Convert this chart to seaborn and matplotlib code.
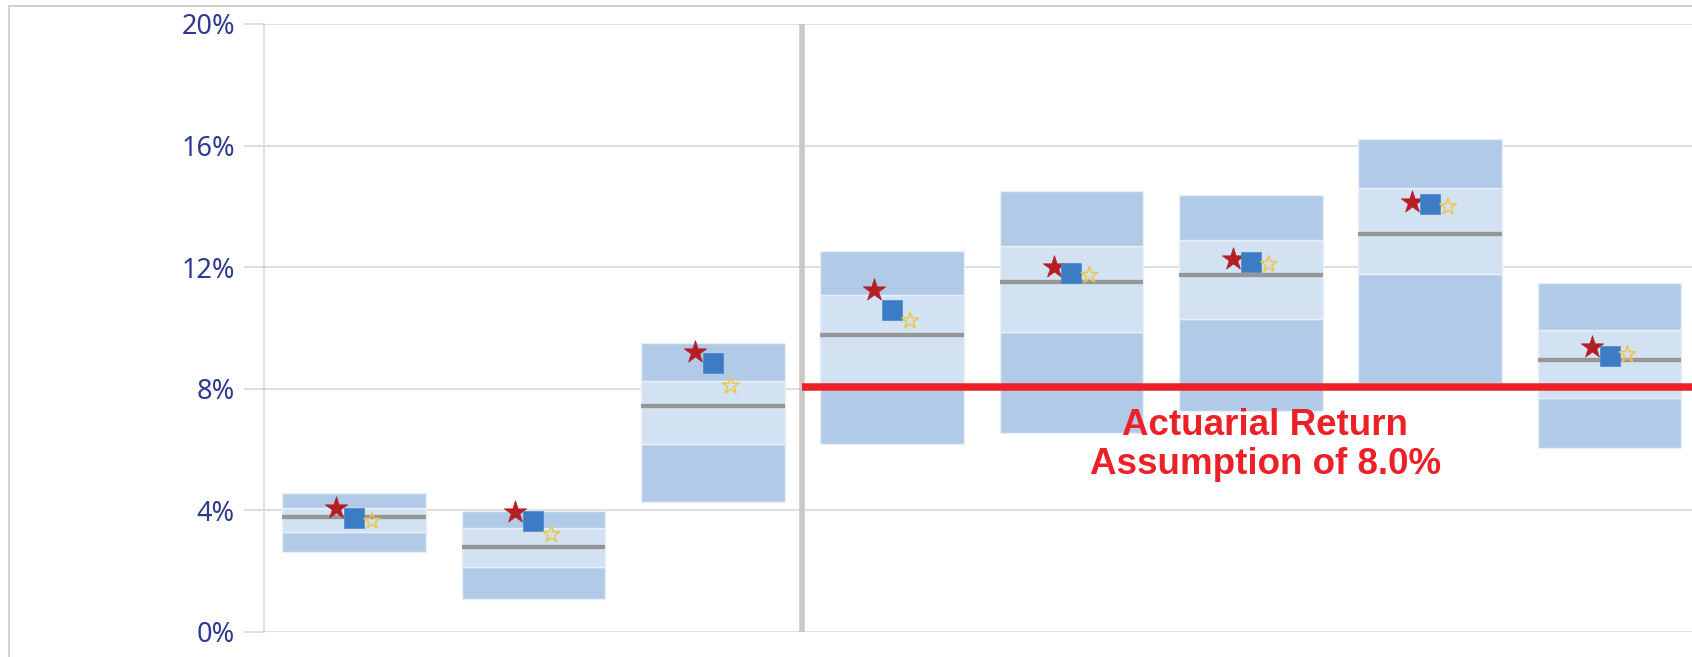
import numpy as np
import pandas as pd
import seaborn as sns
import matplotlib.pyplot as plt
from matplotlib.patches import Rectangle

# return ranges (%), one entry per box (left to right)
high = [4.58, 3.98, 9.50, 12.54, 14.50, 14.36, 16.21, 11.48]
q75 = [4.07, 3.41, 8.27, 11.09, 12.69, 12.89, 14.62, 9.92]
median = [3.79, 2.80, 7.42, 9.76, 11.50, 11.75, 13.08, 8.95]
q25 = [3.29, 2.14, 6.18, 8.00, 9.86, 10.29, 11.78, 7.71]
low = [2.64, 1.07, 4.28, 6.17, 6.53, 7.27, 8.20, 6.04]

red_star = [4.07, 3.96, 9.22, 11.25, 12.00, 12.26, 14.13, 9.39]
blue_square = [3.74, 3.65, 8.84, 10.58, 11.80, 12.17, 14.07, 9.07]
yellow_star = [3.65, 3.21, 8.10, 10.24, 11.74, 12.10, 13.99, 9.13]

assumption = 8.05
n_left = 3
y_ticks = [0, 4, 8, 12, 16, 20]
y_labels = ["{}%".format(t) for t in y_ticks]
note = ["Actuarial Return", "Assumption of 8.0%"]

sns.set_theme(style="white")
plt.rcParams["font.family"] = ["Noto Sans", "DejaVu Sans"]

W, H = 1692, 657
fig = plt.figure(figsize=(W/100, H/100), dpi=100)
ax = fig.add_axes([264.4/W, 1-632/H, 1-264.4/W, (632-24)/H])

dark = "#b1cae7"
light = "#d2e2f2"
grid = "#d4d4d4"
pos = np.arange(len(high))

bar_kw = dict(width=0.8, edgecolor="#e8eff8", linewidth=1, zorder=2)
ax.bar(pos, np.subtract(q25, low), bottom=low, color=dark, **bar_kw)
ax.bar(pos, np.subtract(q75, q25), bottom=q25, color=light, **bar_kw)
ax.bar(pos, np.subtract(high, q75), bottom=q75, color=dark, **bar_kw)
ax.hlines(median, pos-0.4, pos+0.4, color="#969696", lw=3.1, zorder=3)

df = pd.DataFrame({"pos": pos, "red": red_star, "blue": blue_square,
                   "yellow": yellow_star})
sns.scatterplot(x=df["pos"]-0.1, y=df["red"], marker="*", s=17**2,
                color="#b51f24", edgecolor="#b51f24", linewidth=0.5,
                zorder=5, ax=ax)
sns.scatterplot(x=df["pos"], y=df["blue"], marker="s", s=14**2,
                color="#3b7cc4", edgecolor="#4a86c8", linewidth=0.5,
                zorder=5, ax=ax)
sns.scatterplot(x=df["pos"]+0.1, y=df["yellow"], marker="*", s=12.5**2,
                color="#f0c43c", edgecolor="#f0c43c", linewidth=1,
                zorder=5, ax=ax)
ax.collections[-1].set_facecolor("none")

xmax = len(high) - 0.54
sep = n_left - 0.5
ax.axvline(sep, color="#c8c8c8", lw=4, zorder=4)
ax.hlines(assumption, sep, xmax, color="#ec2127", lw=5.4, zorder=6)

ax.text(5.08, 6.48, note[0], ha="center", va="baseline", fontsize=26.5,
        fontweight="bold", color="#ec2127", family="Liberation Sans")
ax.text(5.08, 5.20, note[1], ha="center", va="baseline", fontsize=26.5,
        fontweight="bold", color="#ec2127", family="Liberation Sans")

ax.set_xlim(-0.5, xmax)
ax.set_ylim(0, 20)
ax.set_xticks([])
ax.set_yticks(y_ticks)
ax.set_yticklabels(y_labels)
ax.tick_params(axis="y", left=True, length=14.2, width=1.1, color=grid,
               pad=7, labelsize=19.5, labelcolor="#2e3a8f")
ax.grid(axis="y", color=grid, lw=1.1)
ax.set_axisbelow(True)
for s in ["top", "right", "bottom"]:
    ax.spines[s].set_visible(False)
ax.spines["left"].set_color("#d9d9d9")
ax.spines["left"].set_linewidth(1.1)
ax.set_xlabel("")
ax.set_ylabel("")

fig.patches.append(Rectangle((9/W, -0.05), 1.1, 1 - 6/H + 0.05,
                             transform=fig.transFigure, fill=False,
                             edgecolor="#c8c8c8", lw=1.2))

fig.savefig("out.png", dpi=100)
